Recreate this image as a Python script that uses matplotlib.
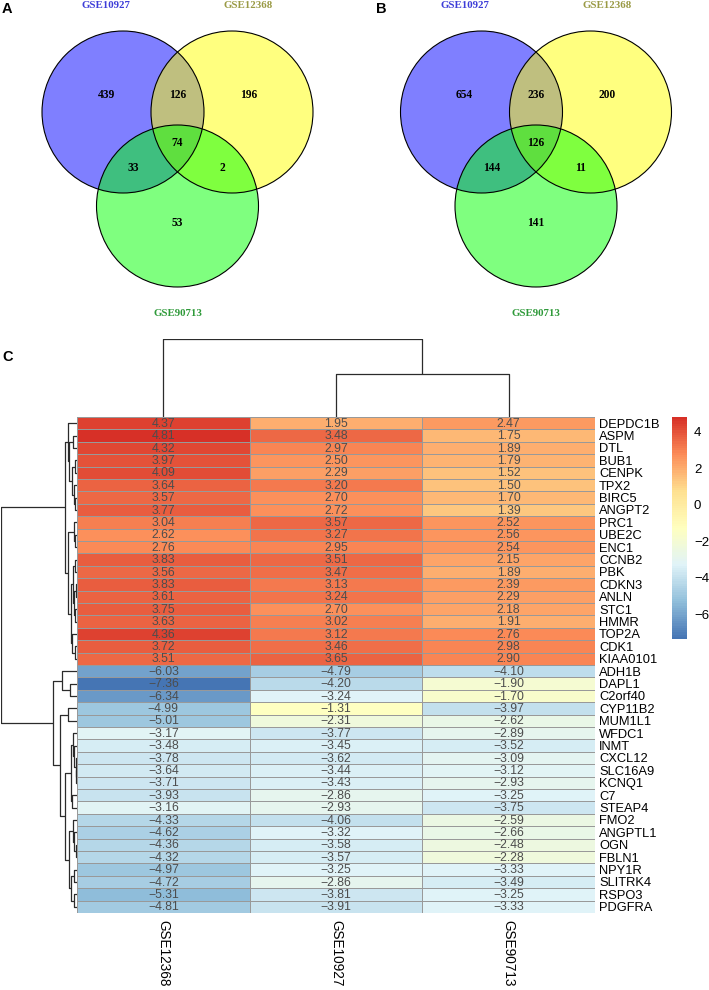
import numpy as np
import matplotlib
matplotlib.use("Agg")
import matplotlib.pyplot as plt
from matplotlib.patches import Circle
from matplotlib.colors import LinearSegmentedColormap, Normalize

## venn data
venn_names = ["GSE10927", "GSE12368", "GSE90713"]
## regions: only1, 1&2, only2, 1&2&3, 1&3, 2&3, only3
venn_a_counts = [439, 126, 196, 74, 33, 2, 53]
venn_b_counts = [654, 236, 200, 126, 144, 11, 141]

## heatmap data (columns as drawn)
datasets = ["GSE12368", "GSE10927", "GSE90713"]
genes = [
	"DEPDC1B", "ASPM", "DTL", "BUB1", "CENPK", "TPX2", "BIRC5", "ANGPT2",
	"PRC1", "UBE2C", "ENC1", "CCNB2", "PBK", "CDKN3", "ANLN", "STC1",
	"HMMR", "TOP2A", "CDK1", "KIAA0101", "ADH1B", "DAPL1", "C2orf40",
	"CYP11B2", "MUM1L1", "WFDC1", "INMT", "CXCL12", "SLC16A9", "KCNQ1",
	"C7", "STEAP4", "FMO2", "ANGPTL1", "OGN", "FBLN1", "NPY1R", "SLITRK4",
	"RSPO3", "PDGFRA"]
gse12368 = [
	4.37, 4.81, 4.32, 3.97, 4.09, 3.64, 3.57, 3.77, 3.04, 2.62,
	2.76, 3.83, 3.56, 3.83, 3.61, 3.75, 3.63, 4.36, 3.72, 3.51,
	-6.03, -7.36, -6.34, -4.99, -5.01, -3.17, -3.48, -3.78, -3.64, -3.71,
	-3.93, -3.16, -4.33, -4.62, -4.36, -4.32, -4.97, -4.72, -5.31, -4.81]
gse10927 = [
	1.95, 3.48, 2.97, 2.50, 2.29, 3.20, 2.70, 2.72, 3.57, 3.27,
	2.95, 3.51, 3.47, 3.13, 3.24, 2.70, 3.02, 3.12, 3.46, 3.65,
	-4.79, -4.20, -3.24, -1.31, -2.31, -3.77, -3.45, -3.62, -3.44, -3.43,
	-2.86, -2.93, -4.06, -3.32, -3.58, -3.57, -3.25, -2.86, -3.81, -3.91]
gse90713 = [
	2.47, 1.75, 1.89, 1.79, 1.52, 1.50, 1.70, 1.39, 2.52, 2.56,
	2.54, 2.15, 1.89, 2.39, 2.29, 2.18, 1.91, 2.76, 2.98, 2.90,
	-4.10, -1.90, -1.70, -3.97, -2.62, -2.89, -3.52, -3.09, -3.12, -2.93,
	-3.25, -3.75, -2.59, -2.66, -2.48, -2.28, -3.33, -3.49, -3.25, -3.33]

W, H = 709, 990


def ax_px(fig, x0, y0, x1, y1):
	## axes from pixel box (top-left origin)
	return fig.add_axes([x0 / W, 1 - y1 / H, (x1 - x0) / W, (y1 - y0) / H])


def complete_linkage(X):
	## plain complete-linkage clustering, euclidean distance
	n = len(X)
	d = np.sqrt(((X[:, None, :] - X[None, :, :]) ** 2).sum(-1))
	members = {i: [i] for i in range(n)}
	merges = []
	nxt = n
	while len(members) > 1:
		keys = list(members)
		best = None
		for i in range(len(keys)):
			for j in range(i + 1, len(keys)):
				a, b = keys[i], keys[j]
				h = d[np.ix_(members[a], members[b])].max()
				if best is None or h < best[0]:
					best = (h, a, b)
		h, a, b = best
		members[nxt] = members.pop(a) + members.pop(b)
		merges.append((a, b, h))
		nxt += 1
	return merges


def draw_tree(ax, merges, n, horizontal, color="#2b2b2b"):
	pos = {i: float(i) for i in range(n)}
	hgt = {i: 0.0 for i in range(n)}
	node = n
	for a, b, h in merges:
		xs = [hgt[a], h, h, hgt[b]]
		ys = [pos[a], pos[a], pos[b], pos[b]]
		if horizontal:
			ax.plot(xs, ys, color=color, lw=0.9, solid_capstyle="butt")
		else:
			ax.plot(ys, xs, color=color, lw=0.9, solid_capstyle="butt")
		pos[node] = (pos[a] + pos[b]) / 2
		hgt[node] = h
		node += 1
	return hgt[node - 1]


def draw_venn(ax, cx, cy, counts):
	r = 81
	offs = [(-54.5, 0), (54.5, 0), (0, 94)]
	fills = ["blue", "yellow", "lime"]
	for (dx, dy), fc in zip(offs, fills):
		ax.add_patch(Circle((cx + dx, cy + dy), r, facecolor=fc, alpha=0.5,
			edgecolor="none"))
	for (dx, dy) in offs:
		ax.add_patch(Circle((cx + dx, cy + dy), r, facecolor="none",
			edgecolor="black", lw=0.8))
	label_offs = [(-71.5, -17), (0, -17), (71.5, -17), (0, 31),
		(-44.5, 56), (44.5, 56), (0, 111)]
	for (dx, dy), c in zip(label_offs, counts):
		ax.text(cx + dx, cy + dy, str(c), ha="center", va="center",
			fontsize=8.3, fontweight="bold", family="Liberation Serif")
	title_pos = [(-71.5, -107), (71, -107), (0, 202)]
	title_cols = ["#3d3dd8", "#9a9a45", "#2f9a3a"]
	for (dx, dy), name, col in zip(title_pos, venn_names, title_cols):
		ax.text(cx + dx, cy + dy, name, ha="center", va="center", color=col,
			fontsize=7.8, fontweight="bold", family="Liberation Serif")


if __name__ == "__main__":

	fig = plt.figure(figsize=(W / 100, H / 100), dpi=100)
	bg = fig.add_axes([0, 0, 1, 1])
	bg.set_xlim(0, W)
	bg.set_ylim(H, 0)
	bg.axis("off")

	## venn panels
	draw_venn(bg, 177.5, 112, venn_a_counts)
	draw_venn(bg, 536, 112, venn_b_counts)
	for lab, x, y in [("A", 2, 9), ("B", 376, 9), ("C", 2, 357)]:
		bg.text(x, y, lab, ha="left", va="center", fontsize=10.5,
			fontweight="bold", family="Liberation Sans")

	## heatmap
	vals = np.array([gse12368, gse10927, gse90713]).T
	nr, nc = vals.shape
	rdylbu = ["#4575B4", "#91BFDB", "#E0F3F8", "#FFFFBF", "#FEE090",
		"#FC8D59", "#D73027"]
	cmap = LinearSegmentedColormap.from_list("pheat", rdylbu, N=100)
	norm = Normalize(vmin=vals.min(), vmax=vals.max())

	hm = ax_px(fig, 77, 417, 595, 913)
	hm.pcolormesh(
		np.arange(nc + 1),
		np.arange(nr + 1),
		vals,
		cmap=cmap,
		norm=norm,
		edgecolors="#999999",
		linewidth=0.55)
	hm.set_xlim(0, nc)
	hm.set_ylim(nr, 0)
	for i in range(nr):
		for j in range(nc):
			hm.text(j + 0.5, i + 0.55, "{:.2f}".format(vals[i, j]).replace("-", "\u2212"),
				ha="center", va="center", fontsize=8.8, color="#4d4d4d",
				family="Liberation Sans")
	hm.yaxis.tick_right()
	hm.set_yticks(np.arange(nr) + 0.5)
	hm.set_yticklabels(genes, fontsize=9.3, family="Liberation Sans")
	hm.set_xticks(np.arange(nc) + 0.5)
	hm.set_xticklabels(datasets, rotation=-90, fontsize=9.8,
		family="Liberation Sans", va="top")
	hm.tick_params(length=0, pad=3)
	hm.tick_params(axis="x", pad=5)
	for s in hm.spines.values():
		s.set_visible(False)

	## dendrograms
	rd = ax_px(fig, 1, 417, 77, 913)
	root = draw_tree(rd, complete_linkage(vals), nr, horizontal=True)
	rd.set_xlim(root, 0)
	rd.set_ylim(nr - 0.5, -0.5)
	rd.axis("off")

	cd = ax_px(fig, 77, 339, 595, 417)
	root = draw_tree(cd, complete_linkage(vals.T), nc, horizontal=False)
	cd.set_ylim(0, root)
	cd.set_xlim(-0.5, nc - 0.5)
	cd.axis("off")

	## colour key
	cax = ax_px(fig, 672, 417, 687, 639)
	sm = plt.cm.ScalarMappable(norm=norm, cmap=cmap)
	cb = fig.colorbar(sm, cax=cax)
	cb.outline.set_visible(False)
	cb.set_ticks([-6, -4, -2, 0, 2, 4])
	cb.ax.set_yticklabels(["\u22126", "\u22124", "\u22122", "0", "2", "4"],
		fontsize=9.5, family="Liberation Sans")
	cb.ax.tick_params(length=0, pad=5)

	fig.savefig("out.png", dpi=100)
	plt.close()
